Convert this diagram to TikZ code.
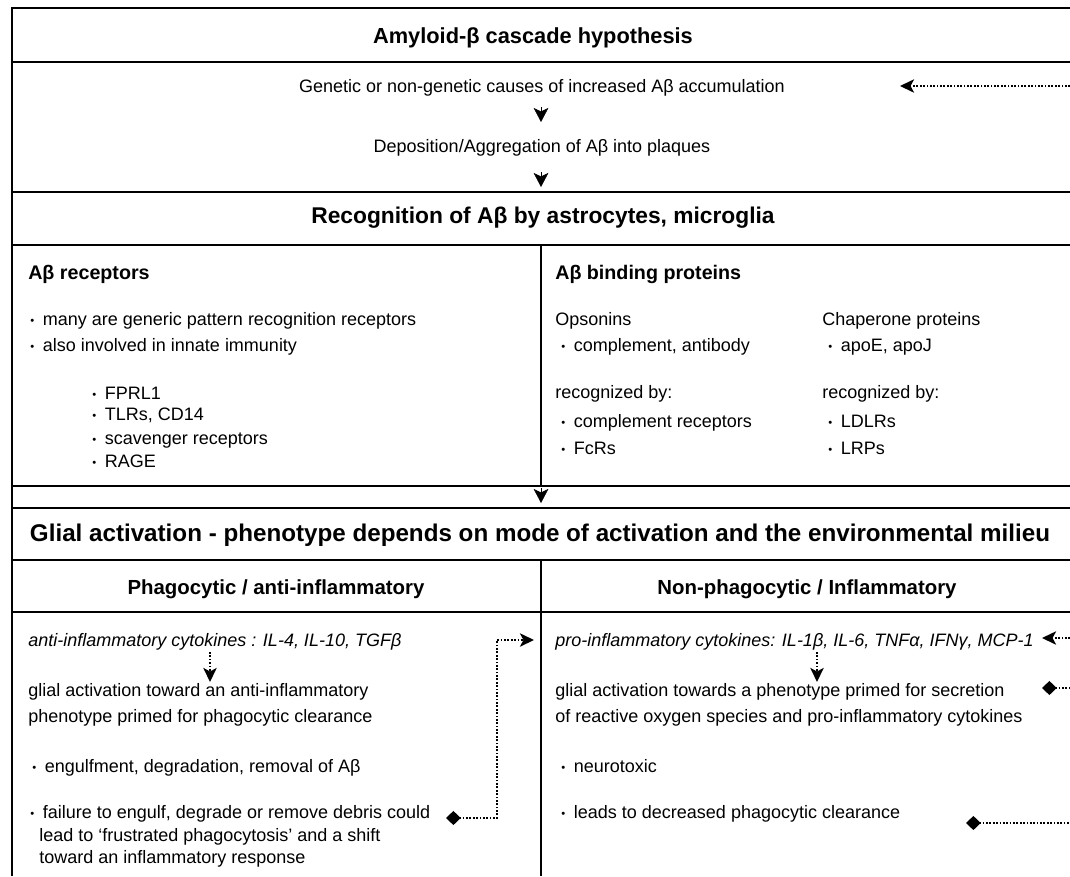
\documentclass[tikz,border=0pt]{standalone}
\usepackage{fontspec}
\setmainfont{Liberation Sans}
\usetikzlibrary{arrows.meta}

\newcommand{\bl}{\makebox[9pt][l]{\raisebox{0.3pt}{\footnotesize\textbullet}}}

\tikzset{
  txt/.style={anchor=base west, inner sep=0pt, font=\fontsize{12.8}{15}\selectfont},
  ctxt/.style={anchor=base, inner sep=0pt, font=\fontsize{12.8}{15}\selectfont},
  hd/.style={anchor=base, inner sep=0pt, font=\bfseries\fontsize{15.5}{18}\selectfont},
  colhd/.style={anchor=base, inner sep=0pt, font=\bfseries\fontsize{14.5}{17}\selectfont},
  subhd/.style={anchor=base west, inner sep=0pt, font=\bfseries\fontsize{14}{16}\selectfont},
  rule/.style={line width=1.3pt},
  headonly/.style={-{Stealth[length=10pt,width=10.5pt,inset=2.5pt]}},
  dots/.style={line width=1.4pt, dash pattern=on 1.2pt off 1.2pt},
  dotarrow/.style={dots, -{Stealth[length=10pt,width=9.5pt,inset=2.5pt]}},
  dmdline/.style={dots, {Diamond[length=10.5pt,width=10pt]}-},
  dmdarrow/.style={dots, {Diamond[length=10.5pt,width=10pt]}-{Stealth[length=10pt,width=9.5pt,inset=2.5pt]}}
}

\begin{document}
\begin{tikzpicture}[x=0.025cm, y=-0.025cm]
\useasboundingbox (0,0) rectangle (1070,876);

% frame and rules
\draw[rule] (1070,8) -- (12,8) -- (12,876);
\draw[rule] (12,62) -- (1070,62);
\draw[rule] (12,192) -- (1070,192);
\draw[rule] (12,245) -- (1070,245);
\draw[rule] (12,486) -- (1070,486);
\draw[rule] (12,508) -- (1070,508);
\draw[rule] (12,560) -- (1070,560);
\draw[rule] (12,612) -- (1070,612);
\draw[rule] (541,245) -- (541,486);
\draw[rule] (541,560) -- (541,876);

% cascade
\node[hd] (T) at (533,43) {Amyloid-β cascade hypothesis};
\node[ctxt] (C1) at (542,92) {Genetic or non-genetic causes of increased Aβ accumulation};
\node[ctxt] (C2) at (542,152) {Deposition/Aggregation of Aβ into plaques};
\coordinate (a1s) at (541,107);
\coordinate (a1e) at (541,122);
\coordinate (a2s) at (541,172);
\coordinate (a2e) at (541,187);
\draw[headonly] (a1s) -- (a1e);
\draw[headonly] (a2s) -- (a2e);
\coordinate (in1) at (1070,86);
\coordinate (in1e) at (900,86);
\draw[dotarrow] (in1) -- (in1e);

% recognition
\node[hd, font=\bfseries\fontsize{16.2}{19}\selectfont] (R) at (543,223) {Recognition of Aβ by astrocytes, microglia};
\node[subhd] (R1) at (28,279) {Aβ receptors};
\node[subhd] (R2) at (555,279) {Aβ binding proteins};

\node[txt] (R1a) at (30,325) {\bl many are generic pattern recognition receptors};
\node[txt] (R1b) at (30,351) {\bl also involved in innate immunity};
\node[txt] (R1c) at (92,399) {\bl FPRL1};
\node[txt] (R1d) at (92,420) {\bl TLRs, CD14};
\node[txt] (R1e) at (92,444) {\bl scavenger receptors};
\node[txt] (R1f) at (92,467) {\bl RAGE};

\node[txt] (O1) at (555,325) {Opsonins};
\node[txt] (O2) at (561,351) {\bl complement, antibody};
\node[txt] (O3) at (555,398) {recognized by:};
\node[txt] (O4) at (561,427) {\bl complement receptors};
\node[txt] (O5) at (561,454) {\bl FcRs};

\node[txt] (P1) at (822,325) {Chaperone proteins};
\node[txt] (P2) at (828,351) {\bl apoE, apoJ};
\node[txt] (P3) at (822,398) {recognized by:};
\node[txt] (P4) at (828,427) {\bl LDLRs};
\node[txt] (P5) at (828,454) {\bl LRPs};

\coordinate (a3s) at (541,488);
\coordinate (a3e) at (541,503);
\draw[headonly] (a3s) -- (a3e);

% glial activation
\node[hd, font=\bfseries\fontsize{17.2}{20}\selectfont] (G) at (540,541) {Glial activation - phenotype depends on mode of activation and the environmental milieu};
\node[colhd] (GL) at (276,594) {Phagocytic / anti-inflammatory};
\node[colhd] (GR) at (807,594) {Non-phagocytic / Inflammatory};

\node[txt, font=\itshape\fontsize{12.8}{15}\selectfont] (L1) at (28,646) {anti-inflammatory cytokines : IL-4, IL-10, TGFβ};
\node[txt] (L2) at (28,696) {glial activation toward an anti-inflammatory};
\node[txt] (L3) at (28,722) {phenotype primed for phagocytic clearance};
\node[txt] (L4) at (32,772) {\bl engulfment, degradation, removal of Aβ};
\node[txt] (L5) at (30,818) {\bl failure to engulf, degrade or remove debris could};
\node[txt] (L6) at (39,841) {lead to ‘frustrated phagocytosis’ and a shift};
\node[txt] (L7) at (39,863) {toward an inflammatory response};

\node[txt, font=\itshape\fontsize{12.8}{15}\selectfont] (N1) at (555,646) {pro-inflammatory cytokines: IL-1β, IL-6, TNFα, IFNγ, MCP-1};
\node[txt] (N2) at (555,696) {glial activation towards a phenotype primed for secretion};
\node[txt] (N3) at (555,722) {of reactive oxygen species and pro-inflammatory cytokines};
\node[txt] (N4) at (561,772) {\bl neurotoxic};
\node[txt] (N5) at (561,818) {\bl leads to decreased phagocytic clearance};

% Draw dotted connectors
\coordinate (dL1) at (210,652);
\coordinate (dL2) at (210,682);
\draw[dotarrow] (dL1) -- (dL2);
\coordinate (dR1) at (817,652);
\coordinate (dR2) at (817,682);
\draw[dotarrow] (dR1) -- (dR2);

\coordinate (fd) at (446,818);
\coordinate (bk) at (497,640);
\coordinate (pa) at (534,640);
\draw[dmdarrow] (fd) -| (bk) -- (pa);

\coordinate (in2) at (1070,638);
\coordinate (in2e) at (1042,638);
\draw[dotarrow] (in2) -- (in2e);
\coordinate (dm2) at (1042,688);
\coordinate (out2) at (1070,688);
\draw[dmdline] (dm2) -- (out2);
\coordinate (dm3) at (966,823);
\coordinate (out3) at (1070,823);
\draw[dmdline] (dm3) -- (out3);

\end{tikzpicture}
\end{document}
